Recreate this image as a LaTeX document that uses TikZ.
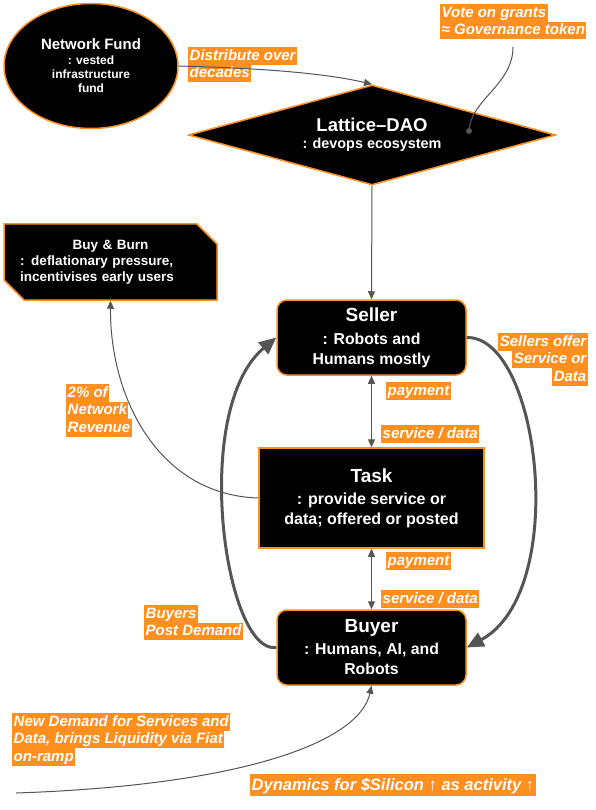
\documentclass[tikz,border=0pt]{standalone}
\usepackage{fontspec}
\setmainfont{Liberation Sans}
\usetikzlibrary{shapes.geometric,shapes.misc,arrows.meta}
\definecolor{lor}{HTML}{FF8F1F}
\definecolor{edgec}{HTML}{555555}
\setlength\fboxsep{0pt}
\newcommand{\hl}[1]{\colorbox{lor}{\rule[-4.5pt]{0pt}{17.5pt}\hspace{1.5pt}#1\hspace{1.5pt}}}
\newcommand{\hlbig}[1]{\colorbox{lor}{\rule[-5.5pt]{0pt}{22pt}\hspace{1.5pt}#1\hspace{1.5pt}}}
\tikzset{
  box/.style={fill=black, draw=lor, line width=1.5pt, text=white, align=center, inner sep=0pt},
  lbl/.style={inner sep=0pt, text=white, font=\fontsize{15}{17.5}\selectfont\bfseries\itshape, align=left},
  thinedge/.style={draw=edgec, line width=1pt, -{Triangle[length=8pt,width=7pt]}},
  dbledge/.style={draw=edgec, line width=1.2pt, {Triangle[length=8pt,width=7pt]}-{Triangle[length=8pt,width=7pt]}},
  thickedge/.style={draw=edgec, line width=3pt, -{Triangle[length=17pt,width=15pt]}},
}
\begin{document}
\begin{tikzpicture}[x=1pt,y=-1pt]
\fill[white] (0,0) rectangle (595,810);
\useasboundingbox (0,0) rectangle (595,810);

% main nodes
\node[box, ellipse, minimum width=174, minimum height=125,
  font=\bfseries\fontsize{12}{14}\selectfont] (fund) at (91,66)
  {{\fontsize{15}{17}\selectfont Network Fund}\\[1pt]: vested\\infrastructure\\fund};
\node[box, diamond, aspect=3.67, minimum width=367, minimum height=100,
  font=\bfseries\fontsize{14.4}{17}\selectfont] (dao) at (372,135)
  {{\fontsize{18.5}{20}\selectfont Lattice–DAO}\\: devops ecosystem};
\node[box, chamfered rectangle, chamfered rectangle corners={north east,south west},
  chamfered rectangle xsep=10pt, chamfered rectangle ysep=10pt,
  minimum width=213, minimum height=76, text width=181pt, align=left,
  font=\bfseries\fontsize{13.5}{16}\selectfont] (bb) at (110.5,262)
  {\makebox[181pt][c]{Buy \& Burn}\\: deflationary pressure,\\incentivises early users};
\node[box, rounded corners=10pt, minimum width=189, minimum height=75,
  font=\bfseries\fontsize{15.8}{20}\selectfont] (seller) at (371.5,337.5)
  {{\fontsize{19}{21}\selectfont Seller}\\[3pt]: Robots and\\Humans mostly};
\node[box, minimum width=225, minimum height=100,
  font=\bfseries\fontsize{16}{20}\selectfont] (task) at (371.5,498)
  {{\fontsize{19}{21}\selectfont Task}\\[2pt]: provide service or\\data; offered or posted};
\node[box, rounded corners=10pt, minimum width=189, minimum height=75,
  font=\bfseries\fontsize{15.8}{20}\selectfont] (buyer) at (371.5,647.5)
  {{\fontsize{19}{21}\selectfont Buyer}\\[2pt]: Humans, AI, and\\Robots};

% labels
\node[lbl, anchor=north west] (l1) at (188,47) {\hl{Distribute over}\\\hl{decades}};
\node[lbl, anchor=north west] (vote) at (440,4) {\hl{Vote on grants}\\\hl{≈ Governance token}};
\node[lbl, anchor=north east, align=right] (l3) at (588,333) {\hl{Sellers offer}\\\hl{Service or}\\\hl{Data}};
\node[lbl, anchor=north west] (l4) at (386,382) {\hl{payment}};
\node[lbl, anchor=north west] (l5) at (381,425) {\hl{service / data}};
\node[lbl, anchor=north west] (l6) at (66,384) {\hl{2\% of}\\\hl{Network}\\\hl{Revenue}};
\node[lbl, anchor=north west] (l7) at (386,552) {\hl{payment}};
\node[lbl, anchor=north west] (l8) at (381,590) {\hl{service / data}};
\node[lbl, anchor=north west] (l9) at (144,605) {\hl{Buyers}\\\hl{Post Demand}};
\node[lbl, anchor=north west] (l10) at (12,713) {\hl{New Demand for Services and}\\\hl{Data, brings Liquidity via Fiat}\\\hl{on-ramp}};
\node[lbl, anchor=north west, font=\fontsize{16.5}{22}\selectfont\bfseries\itshape] (l11) at (250,774) {\hlbig{Dynamics for \$Silicon ↑ as activity ↑}};

% connectors
\draw[thinedge] (fund.east) .. controls (250,68) and (320,72) .. (dao.north);
\draw[thinedge] (dao.south) -- (seller.north);
\draw[dbledge] (seller.south) -- (task.north);
\draw[dbledge] (task.south) -- (buyer.north);
\draw[thickedge] (buyer.west) .. controls (225,655) and (190,410) .. (seller.west);
\draw[thickedge] (seller.east) .. controls (540,336) and (570,592) .. (buyer.east);
\draw[thinedge] (task.west) .. controls (160,495) and (110,400) .. (bb.south);

\coordinate (vstart) at (513,47);
\coordinate (vdot) at (469,131);
\draw[draw=edgec, line width=1pt] (vstart) .. controls (513,85) and (470,100) .. (vdot);
\fill[edgec] (vdot) circle (3);

\coordinate (nd) at (16,793);
\draw[thinedge] (nd) .. controls (250,785) and (360,740) .. (buyer.south);
\end{tikzpicture}
\end{document}
